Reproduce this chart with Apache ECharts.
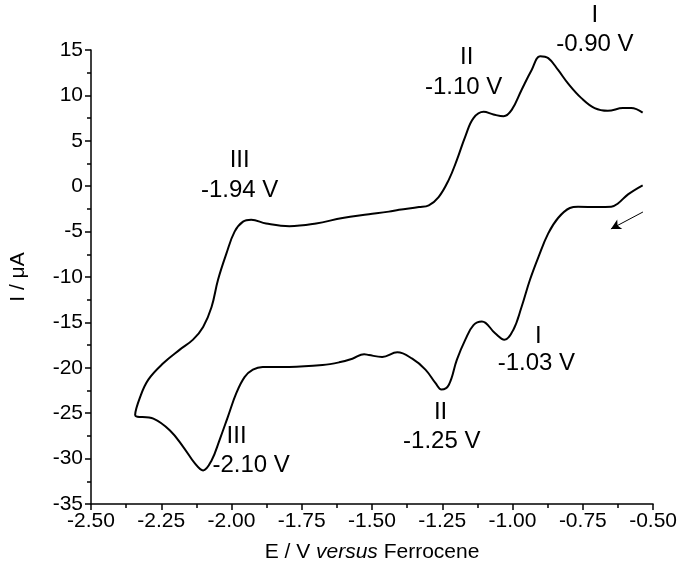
<!DOCTYPE html>
<html>
<head>
<meta charset="utf-8">
<script src="https://cdn.jsdelivr.net/npm/echarts@6/dist/echarts.min.js"></script>
<style>
html,body{margin:0;padding:0;background:#fff;}
#chart{width:680px;height:574px;}
</style>
</head>
<body>
<div id="chart"></div>
<script>
// Cathodic sweep (from -0.54 V towards -2.34 V)
const cathodicE = [-0.537,-0.589,-0.625,-0.649,-0.696,-0.767,-0.796,-0.838,-0.873,-0.908,-0.938,-0.968,-0.997,-1.029,-1.062,-1.109,-1.139,-1.168,-1.198,-1.227,-1.253,-1.274,-1.310,-1.357,-1.410,-1.464,-1.511,-1.528,-1.570,-1.617,-1.676,-1.794,-1.889,-1.924,-1.953,-1.983,-2.013,-2.042,-2.071,-2.101,-2.131,-2.172,-2.219,-2.278,-2.343];
const cathodicI = [0.1,-0.9,-1.9,-2.26,-2.3,-2.26,-2.4,-3.5,-5.2,-7.8,-10.3,-13.3,-15.8,-16.9,-16.2,-14.9,-15.3,-16.9,-19.1,-21.9,-22.4,-21.7,-20.2,-19.0,-18.3,-18.8,-18.6,-18.5,-19.0,-19.4,-19.7,-19.9,-19.9,-20.2,-21.0,-22.8,-25.4,-27.9,-30.2,-31.3,-30.5,-28.7,-26.9,-25.6,-25.2];
// Anodic (return) sweep
const anodicE = [-2.325,-2.296,-2.243,-2.184,-2.137,-2.101,-2.071,-2.048,-2.018,-1.989,-1.959,-1.930,-1.877,-1.794,-1.699,-1.605,-1.511,-1.440,-1.404,-1.333,-1.298,-1.263,-1.227,-1.198,-1.168,-1.139,-1.103,-1.068,-1.032,-1.003,-0.968,-0.932,-0.902,-0.873,-0.838,-0.802,-0.755,-0.708,-0.661,-0.607,-0.578,-0.537];
const anodicI = [-23.2,-21.3,-19.5,-18.0,-16.9,-15.5,-13.3,-10.3,-7.4,-5.0,-3.9,-3.7,-4.1,-4.4,-4.1,-3.5,-3.1,-2.8,-2.6,-2.3,-2.1,-1.2,0.7,2.9,5.5,7.5,8.2,7.9,7.7,8.4,10.6,12.8,14.3,14.1,12.8,11.3,9.7,8.6,8.3,8.6,8.6,8.1];

// Peak annotations (data units): wave number and peak potential
const peakNames = ['I','II','III','I','II','III'];
const peakNameE = [-0.707,-1.163,-1.971,-0.908,-1.256,-1.982];
const peakNameI = [18.85,14.23,2.89,-16.5,-24.87,-27.51];
const peakValues = ['-0.90 V','-1.10 V','-1.94 V','-1.03 V','-1.25 V','-2.10 V'];
const peakValueE = [-0.707,-1.174,-1.971,-0.915,-1.252,-1.930];
const peakValueI = [15.66,10.93,-0.42,-19.47,-28.07,-30.7];

// Scan direction arrow (data units)
const arrowFrom = [-0.536,-2.84];
const arrowTo = [-0.650,-4.71];

const xTicks = {min:-2.5,max:-0.5,interval:0.25};
const yTicks = {min:-35,max:15,interval:5};

const FONT = "'Liberation Sans',Arial,sans-serif";

const curve = [];
cathodicE.forEach((e,i)=>curve.push([e,cathodicI[i]]));
anodicE.forEach((e,i)=>curve.push([e,anodicI[i]]));

const chart = echarts.init(document.getElementById('chart'), null, {renderer:'canvas'});
chart.setOption({
  animation:false,
  backgroundColor:'#fff',
  grid:{left:91,right:25,top:50,bottom:70},
  xAxis:{
    type:'value', min:xTicks.min, max:xTicks.max, interval:xTicks.interval,
    axisLine:{show:true,onZero:false,lineStyle:{color:'#000',width:1.5}},
    axisTick:{show:true,length:6,lineStyle:{color:'#000',width:1.5}},
    minorTick:{show:true,splitNumber:2,length:4,lineStyle:{color:'#000',width:1.5}},
    splitLine:{show:false},
    axisLabel:{color:'#000',fontSize:21,fontFamily:FONT,margin:7,formatter:v=>v.toFixed(2)},
    name:'{a|E / V }{b|versus}{a| Ferrocene}',
    nameLocation:'middle', nameGap:38,
    nameTextStyle:{rich:{
      a:{fontSize:21,fontFamily:FONT,color:'#000'},
      b:{fontSize:21,fontFamily:FONT,color:'#000',fontStyle:'italic'}
    }}
  },
  yAxis:{
    type:'value', min:yTicks.min, max:yTicks.max, interval:yTicks.interval,
    axisLine:{show:true,onZero:false,lineStyle:{color:'#000',width:1.5}},
    axisTick:{show:true,length:6,lineStyle:{color:'#000',width:1.5}},
    minorTick:{show:true,splitNumber:2,length:4,lineStyle:{color:'#000',width:1.5}},
    splitLine:{show:false},
    axisLabel:{color:'#000',fontSize:21,fontFamily:FONT,margin:8},
    name:'I / μA', nameLocation:'middle', nameGap:62,
    nameTextStyle:{fontSize:21,fontFamily:FONT,color:'#000'}
  },
  series:[{
    type:'line',
    data:curve,
    showSymbol:false,
    smooth:0.4,
    lineStyle:{color:'#000',width:2},
    clip:false,
    markLine:{
      silent:true,
      symbol:['none','arrow'], symbolSize:[8,10],
      lineStyle:{color:'#000',width:1,type:'solid'},
      label:{show:false},
      data:[[{coord:arrowFrom},{coord:arrowTo}]]
    }
  }]
});

// Peak labels placed through the chart's own coordinate conversion
function textAt(t, e, i){
  const p = chart.convertToPixel({gridIndex:0},[e,i]);
  return {
    type:'text', x:p[0], y:p[1], silent:true,
    style:{text:t, fill:'#000', font:'24px '+FONT, textAlign:'center', textVerticalAlign:'middle', align:'center', verticalAlign:'middle'}
  };
}
const labelGraphics = [];
peakNames.forEach((t,k)=>labelGraphics.push(textAt(t,peakNameE[k],peakNameI[k])));
peakValues.forEach((t,k)=>labelGraphics.push(textAt(t,peakValueE[k],peakValueI[k])));
chart.setOption({graphic:labelGraphics});
</script>
</body>
</html>
